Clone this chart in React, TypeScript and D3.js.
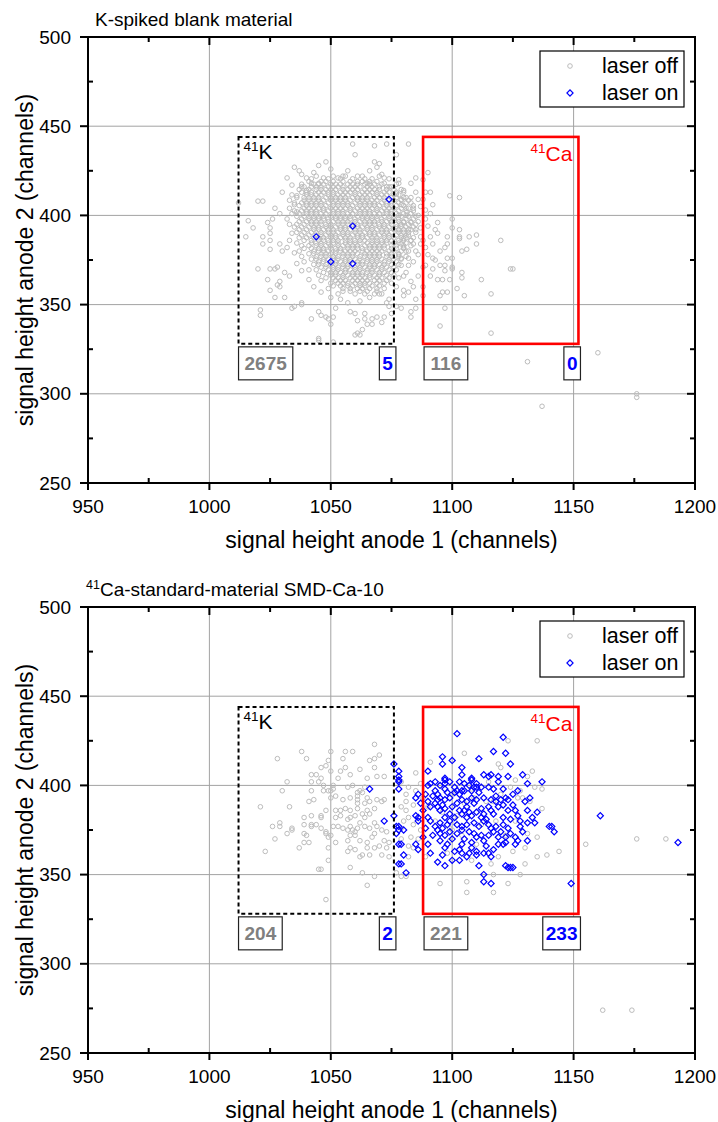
import * as d3 from "d3";
import React from "react";

// axis ticks (channels)
const xTicks = [950, 1000, 1050, 1100, 1150, 1200];
const yTicks = [250, 300, 350, 400, 450, 500];
const xMinor = [975, 1025, 1075, 1125, 1175];
const yMinor = [275, 325, 375, 425, 475];

// gate windows [xMin, xMax, yMin, yMax]
const kGate = [1012, 1076, 328, 444];
const caGate = [1088, 1152, 328, 444];

// counts under the gates: [off in K, on in K, off in Ca, on in Ca]
const blankCounts = ["2675", "5", "116", "0"];
const standardCounts = ["204", "2", "221", "233"];

const seriesNames = ["laser off", "laser on"];

// K-spiked blank, laser off: dense core read row by row (y | x values)
const blankOffCore = [
  "422|1044 1051 1056 1063 1070",
  "420.5|1042 1049 1054 1059 1064 1067 1074",
  "419|1041 1046 1048 1051 1055 1058 1061 1063 1066 1069",
  "417.5|1038 1043 1045 1047 1050 1052 1054 1057 1059 1061 1064 1066 1068 1071 1077",
  "416|1039 1042 1044 1046 1049 1051 1053 1055 1058 1060 1062 1065 1067 1070 1073 1075",
  "414.5|1037 1041 1044 1046 1048 1050 1052 1055 1057 1059 1061 1064 1066 1068 1070 1073 1076 1079",
  "413|1038 1040 1042 1045 1047 1049 1051 1054 1056 1058 1060 1063 1065 1067 1069 1072 1074 1077 1080",
  "411.5|1034 1040 1042 1044 1046 1049 1051 1053 1055 1057 1060 1062 1064 1066 1069 1071 1073 1076 1078",
  "410|1036 1039 1041 1043 1045 1048 1050 1052 1054 1056 1059 1061 1063 1065 1068 1070 1072 1075 1077 1080 1083",
  "408.5|1033 1039 1041 1043 1045 1047 1050 1052 1054 1056 1058 1061 1063 1065 1067 1069 1072 1074 1076 1079 1082",
  "407|1035 1038 1040 1042 1044 1046 1049 1051 1053 1055 1057 1060 1062 1064 1066 1068 1071 1073 1075 1078 1081",
  "405.5|1037 1040 1042 1044 1046 1048 1051 1053 1055 1057 1059 1062 1064 1066 1068 1070 1073 1075 1077 1080 1084",
  "404|1033 1039 1041 1043 1045 1047 1050 1052 1054 1056 1058 1061 1063 1065 1067 1069 1072 1074 1076 1079 1082",
  "402.5|1035 1038 1040 1042 1044 1047 1049 1051 1053 1055 1058 1060 1062 1064 1066 1069 1071 1073 1075 1078 1081 1084",
  "401|1034 1037 1040 1042 1044 1046 1048 1051 1053 1055 1057 1059 1062 1064 1066 1068 1070 1073 1075 1077 1080 1083",
  "399.5|1036 1039 1041 1043 1045 1047 1050 1052 1054 1056 1058 1061 1063 1065 1067 1069 1072 1074 1076 1079 1082 1085",
  "398|1032 1038 1041 1043 1045 1047 1049 1052 1054 1056 1058 1060 1063 1065 1067 1069 1071 1074 1076 1078 1081 1084",
  "396.5|1037 1040 1042 1044 1046 1049 1051 1053 1055 1057 1060 1062 1064 1066 1068 1071 1073 1075 1078 1080 1083 1086",
  "395|1036 1039 1042 1044 1046 1048 1050 1053 1055 1057 1059 1061 1064 1066 1068 1070 1072 1075 1077 1079 1082",
  "393.5|1035 1038 1041 1043 1045 1048 1050 1052 1054 1056 1059 1061 1063 1065 1067 1070 1072 1074 1077 1079 1081 1084",
  "392|1037 1040 1043 1045 1047 1049 1051 1054 1056 1058 1060 1062 1065 1067 1069 1071 1073 1076 1078 1080 1083",
  "390.5|1036 1039 1042 1044 1046 1049 1051 1053 1055 1057 1060 1062 1064 1066 1068 1071 1073 1075 1078 1080 1082 1085",
  "389|1038 1041 1044 1046 1048 1050 1052 1055 1057 1059 1061 1063 1066 1068 1070 1072 1074 1077 1079 1082",
  "387.5|1037 1040 1043 1045 1047 1050 1052 1054 1056 1058 1061 1063 1065 1067 1069 1072 1074 1076 1079 1081 1084",
  "386|1039 1042 1045 1047 1049 1051 1053 1056 1058 1060 1062 1064 1067 1069 1071 1073 1075 1078 1080 1083",
  "384.5|1036 1042 1044 1046 1049 1051 1053 1056 1058 1060 1062 1065 1067 1069 1071 1073 1076 1078 1081",
  "383|1038 1041 1044 1046 1048 1050 1053 1055 1057 1059 1061 1064 1066 1068 1070 1072 1075 1077 1080 1083",
  "381.5|1039 1042 1045 1047 1050 1052 1054 1057 1059 1061 1063 1066 1068 1070 1072 1075 1077 1080",
  "380|1037 1043 1045 1047 1049 1052 1054 1056 1058 1060 1063 1065 1067 1069 1071 1074 1076 1079 1082",
  "378.5|1041 1043 1046 1048 1050 1052 1055 1057 1059 1061 1064 1066 1068 1070 1073 1075 1078",
  "377|1038 1044 1046 1048 1051 1053 1055 1057 1059 1062 1064 1066 1068 1070 1073 1075 1078 1081",
  "375.5|1042 1044 1047 1049 1051 1053 1056 1058 1060 1062 1065 1067 1069 1071 1074 1076 1079",
  "374|1039 1045 1047 1050 1052 1054 1056 1058 1061 1063 1065 1067 1069 1072 1074 1077",
  "372.5|1043 1045 1048 1050 1052 1055 1057 1059 1061 1063 1066 1068 1070 1072 1075 1078",
  "371|1046 1048 1051 1053 1055 1057 1060 1062 1064 1066 1068 1071 1073 1076",
  "369.5|1041 1044 1049 1051 1053 1056 1058 1060 1062 1065 1067 1069 1071 1074 1077",
  "368|1047 1050 1052 1054 1056 1059 1061 1063 1065 1067 1070 1072 1075",
  "366.5|1045 1050 1052 1055 1057 1059 1061 1063 1066 1068 1070 1073 1076",
  "365|1048 1051 1053 1055 1058 1060 1062 1064 1066 1069 1071 1074",
  "363.5|1046 1052 1054 1056 1059 1061 1063 1065 1068 1070 1073",
  "362|1050 1053 1055 1057 1060 1062 1064 1066 1069 1072 1075",
  "360.5|1051 1054 1057 1059 1062 1064 1067 1070",
  "359|1049 1055 1058 1061 1063 1066 1069 1072",
  "357.5|1055 1058 1062 1065 1069",
  "356|1053 1060 1064 1068 1071",
];

// K-spiked blank, laser off: scattered points around the core
const blankOffOuter = `
1059,440 1068,439 1073,440 1060,434 1045,428 1048,430 1050,426 1035,427 1037,425 1038,423
1032,421 1034,417 1030,413 1020,408 1022,408 1012,407 1027,404 1029,401 1026,398 1016,397
1024,396 1025,393 1018,393 1015,388 1022,388 1025,390 1025,386 1022,384 1025,381 1029,384
1030,380 1032,382 1020,370 1025,370 1027,370 1028,371 1031,368 1033,366 1029,363 1024,364
1025,358 1028,361 1029,360 1027,354 1031,354 1034,348 1035,349 1038,351 1038,350 1021,347
1021,344 1042,342 1045,346 1046,344 1048,343 1049,342 1050,339 1051,343 1052,348 1058,346
1060,345 1061,341 1062,333 1064,345 1064,342 1067,339 1069,343 1071,340 1072,343 1073,351
1074,349 1075,345 1051,329 1045,330 1068,430 1070,429 1069,427 1071,423 1072,418 1074,416
1047,421 1053,421 1055,422 1061,422 1065,418 1042,418 1045,418 1036,411 1038,416 1040,414
1045,331 1060,333 1061,334 1063,336 1065,339 1067,342
1033,395 1034,390 1033,386 1035,379 1036,373 1038,369 1041,364 1043,360 1046,357 1050,354
1054,353 1057,351 1062,352 1066,354 1070,356 1074,353 1035,406 1036,402 1040,421 1043,424
1057,425 1066,425 1072,421 1078,420
1082,440 1077,434 1090,424 1085,421 1088,420 1078,418 1083,418 1080,414 1085,413 1089,413
1091,413 1086,409 1088,409 1092,406 1099,411 1103,410 1081,410 1079,406 1083,407 1084,404
1087,405 1089,403 1091,401 1094,396 1093,392 1100,398 1100,393 1103,392 1103,388 1103,387
1107,388 1110,389 1110,384 1120,386 1098,388 1098,384 1095,380 1097,382 1104,380 1106,381
1092,376 1093,375 1095,372 1097,372 1098,376 1100,376 1100,371 1100,370 1104,368 1104,365
1102,359 1105,355 1112,364 1116,356 1124,370 1125,370 1097,369 1099,364 1096,364 1094,364
1092,370 1089,372 1088,371 1095,355 1096,357 1098,357 1097,348 1095,338 1116,334 1091,366
1088,360 1088,355 1085,353 1083,346 1085,348 1083,343 1079,348 1077,349 1080,355 1082,357
1084,360 1081,400 1083,396 1085,392 1087,388 1084,384 1081,380 1086,378 1089,382 1090,394
1091,388 1089,398 1086,400 1082,392 1080,387 1079,376 1082,372 1080,366 1086,366 1083,363
1087,384 1092,384 1094,390 1090,378
1077,412 1079,409 1081,404 1078,400 1080,396 1078,392 1081,389 1079,384 1083,386 1080,382
1078,378 1082,376 1084,374 1079,372 1081,368 1078,365 1085,395 1087,393 1083,401 1085,380
1088,386 1077,360 1080,358
1131,318 1160,323 1137,293 1176,300 1176,298
`;

const blankOn = `1074,409 1059,394 1044,388 1050,374 1059,373`;

// 41Ca standard material, laser off
const standardOff = `
1028,415 1038,419 1040,415 1050,419 1056,419 1059,419 1068,423 1070,417 1066,414 1068,415
1049,414 1055,415 1056,410 1062,409 1068,410 1065,404 1069,405 1072,405 1048,411 1046,410
1050,408 1042,406 1044,406 1046,404 1045,402 1042,402 1053,404 1058,406 1054,408 1032,402
1030,397 1042,397 1047,397 1049,397 1050,397 1051,398 1047,400 1051,400 1057,399 1059,400
1062,397 1064,399 1061,396 1063,396 1061,394 1061,392 1061,390 1061,387 1065,393 1066,391
1064,390 1069,392 1071,391 1072,392 1043,392 1041,391 1050,393 1052,394 1055,392 1058,393
1021,388 1033,388 1039,382 1042,383 1046,383 1046,382 1048,386 1052,386 1054,386 1056,387
1058,386 1058,382 1057,381 1054,383 1052,382 1060,383 1063,384 1065,386 1068,387 1066,384
1064,382 1026,377 1029,379 1029,377 1034,376 1034,375 1032,373 1027,370 1023,363 1039,378
1042,378 1042,377 1044,378 1046,376 1048,374 1050,372 1049,371 1048,373 1039,373 1040,372
1041,368 1037,365 1039,368 1051,377 1053,377 1055,376 1058,377 1057,375 1059,375 1060,374
1060,372 1058,372 1061,376 1062,379 1064,377 1066,376 1068,379 1068,373 1067,371 1069,377
1071,375 1073,374 1049,365 1052,368 1057,369 1058,365 1062,369 1065,368 1065,365 1062,360
1066,361 1068,365 1070,366 1072,369 1074,368 1073,365 1074,360 1071,361 1057,363 1060,364
1063,361 1049,358 1045,353 1046,353 1058,354 1063,351 1068,349 1065,344 1048,336
1085,407 1091,413 1105,418 1123,425 1135,425 1119,412 1120,410 1126,403 1131,405 1133,408
1134,399 1137,398 1128,397 1132,391 1137,387 1127,393 1102,383 1088,393 1081,395 1081,391
1081,386 1084,389 1079,388 1082,382 1079,376 1083,371 1084,365 1082,360 1081,349 1079,349
1077,351 1095,345 1106,340 1106,346 1117,350 1117,340 1123,345 1128,350 1130,356 1135,360
1139,361 1144,363 1155,367 1135,371 1130,365 1125,363 1119,360 1116,356 1110,367 1099,369
1099,376 1100,375 1101,380 1109,393 1114,391 1117,391 1124,399 1129,393
1079,402 1082,399 1085,397 1087,401 1080,380 1084,378 1087,375 1086,370 1082,366 1089,360
1079,370 1095,400 1100,395 1105,390 1110,385 1112,378 1096,385 1104,372 1118,380 1122,372
1108,398 1115,402 1090,388 1093,380 1098,362 1108,358 1120,395 1126,380 1131,373
1162,274 1174,274 1176,370 1188,370
`;

// 41Ca standard material, laser on
const standardOn = `
1102,429 1121,427 1096,416 1096,412 1100,414 1111,415 1117,419 1122,418 1124,412 1104,410
1090,408 1113,406 1115,405 1116,406 1129,406 1137,402 1131,401 1132,393 1104,406 1103,402
1105,401 1108,404 1108,403 1110,401 1110,399 1093,402 1097,404 1097,401 1097,403 1099,402
1095,400 1091,401 1090,400 1119,405 1119,402 1123,405 1121,398 1117,398 1118,394 1109,399
1112,399 1115,399 1108,397 1104,397 1102,397 1086,395 1085,393 1093,397 1094,395 1095,393
1097,392 1099,393 1101,396 1097,398 1088,386 1086,382 1085,383 1086,380 1090,391 1091,388
1093,390 1094,388 1095,386 1096,389 1097,387 1100,388 1102,390 1104,392 1106,391 1106,388
1108,393 1109,390 1110,392 1103,386 1104,384 1106,382 1108,383 1110,385 1112,387 1113,384
1115,388 1116,386 1117,384 1119,388 1120,392 1122,393 1123,392 1125,389 1127,383 1126,386
1123,386 1121,382 1131,386 1133,382 1135,385 1134,379 1131,379 1090,382 1091,380 1093,377
1095,379 1097,382 1099,380 1101,382 1102,378 1104,377 1106,378 1109,379 1111,377 1113,380
1115,378 1116,376 1094,375 1095,373 1097,372 1099,374 1100,370 1102,373 1104,375 1107,374
1109,373 1110,371 1113,369 1115,372 1117,374 1118,377 1120,374 1122,371 1123,376 1124,373
1126,371 1128,377 1129,374 1131,369 1140,377 1142,374 1141,377 1077,377 1080,375 1077,373
1079,367 1080,361 1079,356 1081,351 1085,367 1086,364 1090,367 1091,362 1096,361 1097,365
1101,363 1104,367 1104,362 1108,365 1107,362 1110,363 1110,361 1113,362 1115,362 1116,360
1094,357 1097,355 1103,358 1106,360 1111,355 1113,350 1113,346 1116,345 1122,355 1123,354
1124,354 1125,354 1119,367 1121,367 1122,368 1126,367 1127,369 1149,345 1161,383 1076,412
1078,408 1078,405 1078,403 1078,402 1078,398 1066,398 1076,383 1072,380 1078,377 1078,375
1078,367 1078,356 1193,368
1092,394 1094,392 1098,396 1101,399 1103,395 1105,397 1107,400 1111,396 1113,393 1116,392
1118,391 1121,389 1112,382 1114,381 1107,385 1105,386 1099,384 1098,378 1096,376 1092,372
1105,370 1108,368 1112,372 1119,371 1121,378 1124,381 1128,380 1098,367 1095,369 1089,376
1088,371 1087,390 1089,395 1125,395 1127,397 1130,391 1114,366 1117,364 1103,364 1100,358
`;

type Pt = [number, number];

const parsePairs = (s: string): Pt[] =>
  s
    .trim()
    .split(/\s+/)
    .map((p) => p.split(",").map(Number) as Pt);

const parseRows = (rows: string[]): Pt[] =>
  rows.flatMap((r) => {
    const [yv, xs] = r.split("|");
    return xs
      .trim()
      .split(/\s+/)
      .map((xv) => [Number(xv), Number(yv)] as Pt);
  });

const FONT = "'Liberation Sans', Arial, Helvetica, sans-serif";
const GRAY = "#bcbcbc";
const BLUE = "#0000ff";
const PLOT_H = 446;

const diamondPath = d3.symbol(d3.symbolSquare, 19)() as string;

function CountLabel({ text, anchorX, top, color, alignRight }) {
  const fs = 19;
  const pad = alignRight ? 3 : 6;
  const w = text.length * 0.556 * fs + pad * 2;
  const left = alignRight ? anchorX - w : anchorX;
  return (
    <g>
      <rect x={left} y={top} width={w} height={33} fill="white" stroke="#222" strokeWidth={1.2} />
      <text
        x={left + w / 2}
        y={top + 17}
        textAnchor="middle"
        dominantBaseline="central"
        fontSize={fs}
        fontWeight="bold"
        fill={color}
      >
        {text}
      </text>
    </g>
  );
}

function Panel({ top, title, off, on, counts }) {
  const x = d3.scaleLinear().domain([950, 1200]).range([88, 695]);
  const y = d3.scaleLinear().domain([250, 500]).range([top + PLOT_H, top]);
  const [xl, xr] = x.range();
  const [yb, yt] = y.range();

  const kx0 = x(kGate[0]);
  const kx1 = x(kGate[1]);
  const cx0 = x(caGate[0]);
  const cx1 = x(caGate[1]);
  const gTop = y(kGate[3]);
  const gBot = y(kGate[2]);

  return (
    <g fontFamily={FONT}>
      {/* grid */}
      {xTicks.slice(1, -1).map((t) => (
        <line key={"gx" + t} x1={x(t)} x2={x(t)} y1={yt} y2={yb} stroke="#a3a3a3" strokeWidth={1} />
      ))}
      {yTicks.slice(1, -1).map((t) => (
        <line key={"gy" + t} x1={xl} x2={xr} y1={y(t)} y2={y(t)} stroke="#a3a3a3" strokeWidth={1} />
      ))}

      {/* points */}
      {off.map(([a, b], i) => (
        <circle key={"o" + i} cx={x(a)} cy={y(b)} r={2.3} fill="none" stroke={GRAY} strokeWidth={1} />
      ))}
      {on.map(([a, b], i) => (
        <path
          key={"n" + i}
          d={diamondPath}
          transform={`translate(${x(a)},${y(b)}) rotate(45)`}
          fill="none"
          stroke={BLUE}
          strokeWidth={1.2}
        />
      ))}

      {/* gates */}
      <rect
        x={kx0}
        y={gTop}
        width={kx1 - kx0}
        height={gBot - gTop}
        fill="none"
        stroke="#000"
        strokeWidth={2}
        strokeDasharray="4,3"
      />
      <rect x={cx0} y={gTop} width={cx1 - cx0} height={gBot - gTop} fill="none" stroke="#ff0000" strokeWidth={2.6} />

      <text x={kx0 + 5} y={gTop + 22} fill="#000">
        <tspan fontSize={13.5} dy={-8}>41</tspan>
        <tspan fontSize={21} dy={8}>K</tspan>
      </text>
      <text x={cx1 - 6} y={gTop + 24} fill="#ff0000" textAnchor="end">
        <tspan fontSize={13.5} dy={-8}>41</tspan>
        <tspan fontSize={21} dy={8}>Ca</tspan>
      </text>

      <CountLabel text={counts[0]} anchorX={kx0} top={gBot + 3} color="#808080" alignRight={false} />
      <CountLabel text={counts[1]} anchorX={kx1 + 2} top={gBot + 3} color={BLUE} alignRight={true} />
      <CountLabel text={counts[2]} anchorX={cx0 + 1} top={gBot + 3} color="#808080" alignRight={false} />
      <CountLabel text={counts[3]} anchorX={cx1 + 2} top={gBot + 3} color={BLUE} alignRight={true} />

      {/* frame */}
      <rect x={xl} y={yt} width={xr - xl} height={yb - yt} fill="none" stroke="#000" strokeWidth={2} />

      {/* ticks */}
      {xTicks.map((t) => (
        <g key={"tx" + t}>
          <line x1={x(t)} x2={x(t)} y1={yb} y2={yb + 7} stroke="#000" strokeWidth={2} />
          <line x1={x(t)} x2={x(t)} y1={yt} y2={yt + 8} stroke="#000" strokeWidth={2} />
          <text x={x(t)} y={yb + 23} textAnchor="middle" dominantBaseline="central" fontSize={19}>
            {t}
          </text>
        </g>
      ))}
      {xMinor.map((t) => (
        <g key={"mx" + t}>
          <line x1={x(t)} x2={x(t)} y1={yb} y2={yb - 5} stroke="#000" strokeWidth={2} />
          <line x1={x(t)} x2={x(t)} y1={yt} y2={yt + 5} stroke="#000" strokeWidth={2} />
        </g>
      ))}
      {yTicks.map((t) => (
        <g key={"ty" + t}>
          <line x1={xl - 8} x2={xl} y1={y(t)} y2={y(t)} stroke="#000" strokeWidth={2} />
          <line x1={xr - 8} x2={xr} y1={y(t)} y2={y(t)} stroke="#000" strokeWidth={2} />
          <text x={xl - 17} y={y(t)} textAnchor="end" dominantBaseline="central" fontSize={19}>
            {t}
          </text>
        </g>
      ))}
      {yMinor.map((t) => (
        <g key={"my" + t}>
          <line x1={xl} x2={xl + 5} y1={y(t)} y2={y(t)} stroke="#000" strokeWidth={2} />
          <line x1={xr - 5} x2={xr} y1={y(t)} y2={y(t)} stroke="#000" strokeWidth={2} />
        </g>
      ))}

      {/* axis titles */}
      <text x={(xl + xr) / 2} y={yb + 57} textAnchor="middle" dominantBaseline="central" fontSize={23}>
        signal height anode 1 (channels)
      </text>
      <text
        transform={`translate(25,${(yt + yb) / 2}) rotate(-90)`}
        textAnchor="middle"
        dominantBaseline="central"
        fontSize={23}
      >
        signal height anode 2 (channels)
      </text>

      {/* panel title */}
      {title}

      {/* legend */}
      <rect x={540} y={yt + 14} width={144} height={56} fill="white" stroke="#000" strokeWidth={1.2} />
      <circle cx={570} cy={yt + 29} r={2.3} fill="none" stroke={GRAY} strokeWidth={1} />
      <path
        d={diamondPath}
        transform={`translate(570,${yt + 56}) rotate(45)`}
        fill="none"
        stroke={BLUE}
        strokeWidth={1.2}
      />
      <text x={602} y={yt + 29} dominantBaseline="central" fontSize={21.5}>
        {seriesNames[0]}
      </text>
      <text x={602} y={yt + 56} dominantBaseline="central" fontSize={21.5}>
        {seriesNames[1]}
      </text>
    </g>
  );
}

export default function App() {
  const blankOff = [...parseRows(blankOffCore), ...parsePairs(blankOffOuter)];
  const topY = 37;
  const botY = 607;
  return (
    <svg
      width={718}
      height={1122}
      style={{ position: "absolute", left: 0, top: 0, background: "white" }}
    >
      <rect width={718} height={1122} fill="white" />
      <Panel
        top={topY}
        off={blankOff}
        on={parsePairs(blankOn)}
        counts={blankCounts}
        title={
          <text x={95} y={topY - 11} fontSize={19} fontFamily={FONT}>
            K-spiked blank material
          </text>
        }
      />
      <Panel
        top={botY}
        off={parsePairs(standardOff)}
        on={parsePairs(standardOn)}
        counts={standardCounts}
        title={
          <text x={86} y={botY - 11} fontFamily={FONT}>
            <tspan fontSize={12.5} dy={-7}>41</tspan>
            <tspan fontSize={19} dy={7}>Ca-standard-material SMD-Ca-10</tspan>
          </text>
        }
      />
    </svg>
  );
}
